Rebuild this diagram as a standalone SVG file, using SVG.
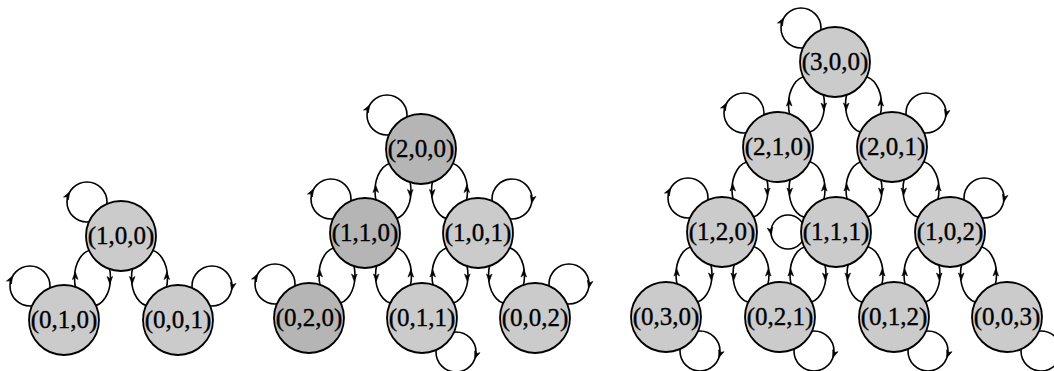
<svg xmlns="http://www.w3.org/2000/svg" xmlns:xlink="http://www.w3.org/1999/xlink" width="1054" height="371" viewBox="0 0 1054 371">
  <style>
    .arc { fill: none; stroke: #000; stroke-width: 1.6; }
    .node { fill: #cbcbcb; stroke: #000; stroke-width: 1.8; }
    .dark { fill: #b5b5b5; }
    .lbl { font-family: "Liberation Serif", "Times New Roman", serif; font-size: 25px; text-anchor: middle; fill: #000; stroke: #000; stroke-width: 0.35; }
  </style>
  <defs>
    <!-- arrowhead, tip at origin, pointing up -->
    <path id="ah" d="M0,0 L-2.8,7.5 L0,5.6 L2.8,7.5 Z" fill="#000" stroke="#000" stroke-width="0.6"/>
  </defs>
  <rect width="1054" height="371" fill="#fff"/>

  <g id="connectors">
    <!-- paired transitions between neighbouring states: ellipse behind the two nodes -->
    <g class="arc">
      <ellipse cx="92.5" cy="278" rx="18" ry="28"/>
      <ellipse cx="149.5" cy="278" rx="18" ry="28"/>

      <ellipse cx="393" cy="191" rx="18" ry="28"/>
      <ellipse cx="449.5" cy="191" rx="18" ry="28"/>
      <ellipse cx="337" cy="275.5" rx="18" ry="28"/>
      <ellipse cx="393.5" cy="275.5" rx="18" ry="28"/>
      <ellipse cx="450" cy="275.5" rx="18" ry="28"/>
      <ellipse cx="506.5" cy="275.5" rx="18" ry="28"/>

      <ellipse cx="806.5" cy="104.5" rx="18" ry="28"/>
      <ellipse cx="863.5" cy="104.5" rx="18" ry="28"/>
      <ellipse cx="750" cy="189.5" rx="18" ry="28"/>
      <ellipse cx="807" cy="189.5" rx="18" ry="28"/>
      <ellipse cx="864" cy="189.5" rx="18" ry="28"/>
      <ellipse cx="921" cy="189.5" rx="18" ry="28"/>
      <ellipse cx="694" cy="274.5" rx="18" ry="28"/>
      <ellipse cx="751" cy="274.5" rx="18" ry="28"/>
      <ellipse cx="808" cy="274.5" rx="18" ry="28"/>
      <ellipse cx="865" cy="274.5" rx="18" ry="28"/>
      <ellipse cx="922" cy="274.5" rx="18" ry="28"/>
      <ellipse cx="978.5" cy="274.5" rx="18" ry="28"/>

      <!-- self loops -->
      <circle cx="87" cy="202" r="20"/>
      <circle cx="30" cy="286" r="20"/>
      <circle cx="212" cy="286" r="20"/>

      <circle cx="387" cy="115" r="20"/>
      <circle cx="331" cy="199" r="20"/>
      <circle cx="512" cy="199" r="20"/>
      <circle cx="275" cy="284" r="20"/>
      <circle cx="456" cy="352" r="20"/>
      <circle cx="569" cy="284" r="20"/>

      <circle cx="801" cy="28" r="20"/>
      <circle cx="744" cy="113" r="20"/>
      <circle cx="926" cy="113" r="20"/>
      <circle cx="688" cy="198" r="20"/>
      <circle cx="788" cy="232" r="17"/>
      <circle cx="984" cy="198" r="20"/>
      <circle cx="700" cy="351" r="20"/>
      <circle cx="814" cy="351" r="20"/>
      <circle cx="928" cy="351" r="20"/>
      <circle cx="1041" cy="351" r="20"/>
    </g>

    <!-- arrowheads on the paired transitions -->
    <use xlink:href="#ah" transform="translate(75.2,272)"/>
    <use xlink:href="#ah" transform="translate(109.8,284) rotate(180)"/>
    <use xlink:href="#ah" transform="translate(132.2,284) rotate(180)"/>
    <use xlink:href="#ah" transform="translate(166.8,272)"/>

    <use xlink:href="#ah" transform="translate(375.7,185)"/>
    <use xlink:href="#ah" transform="translate(410.3,197) rotate(180)"/>
    <use xlink:href="#ah" transform="translate(432.2,197) rotate(180)"/>
    <use xlink:href="#ah" transform="translate(466.8,185)"/>
    <use xlink:href="#ah" transform="translate(319.7,269.5)"/>
    <use xlink:href="#ah" transform="translate(354.3,281.5) rotate(180)"/>
    <use xlink:href="#ah" transform="translate(376.2,281.5) rotate(180)"/>
    <use xlink:href="#ah" transform="translate(410.8,269.5)"/>
    <use xlink:href="#ah" transform="translate(432.7,269.5)"/>
    <use xlink:href="#ah" transform="translate(467.3,281.5) rotate(180)"/>
    <use xlink:href="#ah" transform="translate(489.2,281.5) rotate(180)"/>
    <use xlink:href="#ah" transform="translate(523.8,269.5)"/>

    <use xlink:href="#ah" transform="translate(789.2,98.5)"/>
    <use xlink:href="#ah" transform="translate(823.8,110.5) rotate(180)"/>
    <use xlink:href="#ah" transform="translate(846.2,110.5) rotate(180)"/>
    <use xlink:href="#ah" transform="translate(880.8,98.5)"/>
    <use xlink:href="#ah" transform="translate(732.7,183.5)"/>
    <use xlink:href="#ah" transform="translate(767.3,195.5) rotate(180)"/>
    <use xlink:href="#ah" transform="translate(789.7,195.5) rotate(180)"/>
    <use xlink:href="#ah" transform="translate(824.3,183.5)"/>
    <use xlink:href="#ah" transform="translate(846.7,183.5)"/>
    <use xlink:href="#ah" transform="translate(881.3,195.5) rotate(180)"/>
    <use xlink:href="#ah" transform="translate(903.7,195.5) rotate(180)"/>
    <use xlink:href="#ah" transform="translate(938.3,183.5)"/>
    <use xlink:href="#ah" transform="translate(676.7,268.5)"/>
    <use xlink:href="#ah" transform="translate(711.3,280.5) rotate(180)"/>
    <use xlink:href="#ah" transform="translate(733.7,280.5) rotate(180)"/>
    <use xlink:href="#ah" transform="translate(768.3,268.5)"/>
    <use xlink:href="#ah" transform="translate(790.7,268.5)"/>
    <use xlink:href="#ah" transform="translate(825.3,280.5) rotate(180)"/>
    <use xlink:href="#ah" transform="translate(847.7,280.5) rotate(180)"/>
    <use xlink:href="#ah" transform="translate(882.3,268.5)"/>
    <use xlink:href="#ah" transform="translate(904.7,268.5)"/>
    <use xlink:href="#ah" transform="translate(939.3,280.5) rotate(180)"/>
    <use xlink:href="#ah" transform="translate(961.2,280.5) rotate(180)"/>
    <use xlink:href="#ah" transform="translate(995.8,268.5)"/>

    <!-- arrowheads on the self loops -->
    <use xlink:href="#ah" transform="translate(69.7,192) rotate(30)"/>
    <use xlink:href="#ah" transform="translate(12.7,276) rotate(30)"/>
    <use xlink:href="#ah" transform="translate(231.6,290.2) rotate(192)"/>

    <use xlink:href="#ah" transform="translate(369.7,105) rotate(30)"/>
    <use xlink:href="#ah" transform="translate(313.7,189) rotate(30)"/>
    <use xlink:href="#ah" transform="translate(531.6,203.2) rotate(192)"/>
    <use xlink:href="#ah" transform="translate(257.7,274) rotate(30)"/>
    <use xlink:href="#ah" transform="translate(474.8,358.8) rotate(200)"/>
    <use xlink:href="#ah" transform="translate(588.6,288.2) rotate(192)"/>

    <use xlink:href="#ah" transform="translate(783.7,18) rotate(30)"/>
    <use xlink:href="#ah" transform="translate(726.7,103) rotate(30)"/>
    <use xlink:href="#ah" transform="translate(945.6,117.2) rotate(192)"/>
    <use xlink:href="#ah" transform="translate(670.7,188) rotate(30)"/>
    <use xlink:href="#ah" transform="translate(771.3,235) rotate(170)"/>
    <use xlink:href="#ah" transform="translate(1003.6,202.2) rotate(192)"/>
    <use xlink:href="#ah" transform="translate(718.8,357.8) rotate(200)"/>
    <use xlink:href="#ah" transform="translate(832.8,357.8) rotate(200)"/>
    <use xlink:href="#ah" transform="translate(946.8,357.8) rotate(200)"/>
  </g>

  <!-- one customer: three states -->
  <g id="n100"><circle class="node" cx="121" cy="236" r="35"/><text class="lbl" x="121" y="244">(1,0,0)</text></g>
  <g id="n010"><circle class="node" cx="64" cy="320" r="35"/><text class="lbl" x="64" y="328">(0,1,0)</text></g>
  <g id="n001"><circle class="node" cx="178" cy="320" r="35"/><text class="lbl" x="178" y="328">(0,0,1)</text></g>

  <!-- two customers: six states -->
  <g id="n200"><circle class="node dark" cx="421" cy="149" r="35"/><text class="lbl" x="421" y="157">(2,0,0)</text></g>
  <g id="n110"><circle class="node dark" cx="365" cy="233" r="35"/><text class="lbl" x="365" y="241">(1,1,0)</text></g>
  <g id="n101"><circle class="node" cx="478" cy="233" r="35"/><text class="lbl" x="478" y="241">(1,0,1)</text></g>
  <g id="n020"><circle class="node dark" cx="309" cy="318" r="35"/><text class="lbl" x="309" y="326">(0,2,0)</text></g>
  <g id="n011"><circle class="node" cx="422" cy="318" r="35"/><text class="lbl" x="422" y="326">(0,1,1)</text></g>
  <g id="n002"><circle class="node" cx="535" cy="318" r="35"/><text class="lbl" x="535" y="326">(0,0,2)</text></g>

  <!-- three customers: ten states -->
  <g id="n300"><circle class="node" cx="835" cy="62" r="35"/><text class="lbl" x="835" y="70">(3,0,0)</text></g>
  <g id="n210"><circle class="node" cx="778" cy="147" r="35"/><text class="lbl" x="778" y="155">(2,1,0)</text></g>
  <g id="n201"><circle class="node" cx="892" cy="147" r="35"/><text class="lbl" x="892" y="155">(2,0,1)</text></g>
  <g id="n120"><circle class="node" cx="722" cy="232" r="35"/><text class="lbl" x="722" y="240">(1,2,0)</text></g>
  <g id="n111"><circle class="node" cx="836" cy="232" r="35"/><text class="lbl" x="836" y="240">(1,1,1)</text></g>
  <g id="n102"><circle class="node" cx="950" cy="232" r="35"/><text class="lbl" x="950" y="240">(1,0,2)</text></g>
  <g id="n030"><circle class="node" cx="666" cy="317" r="35"/><text class="lbl" x="666" y="325">(0,3,0)</text></g>
  <g id="n021"><circle class="node" cx="780" cy="317" r="35"/><text class="lbl" x="780" y="325">(0,2,1)</text></g>
  <g id="n012"><circle class="node" cx="894" cy="317" r="35"/><text class="lbl" x="894" y="325">(0,1,2)</text></g>
  <g id="n003"><circle class="node" cx="1007" cy="317" r="35"/><text class="lbl" x="1007" y="325">(0,0,3)</text></g>
</svg>
